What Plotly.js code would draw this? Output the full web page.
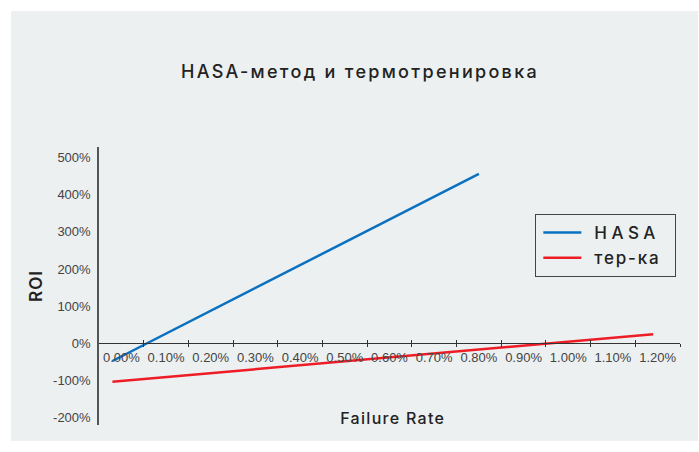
<!DOCTYPE html>
<html>
<head>
<meta charset="utf-8">
<script src="https://cdn.plot.ly/plotly-3.0.1.min.js"></script>
<style>
  html, body { margin: 0; padding: 0; background: #ffffff; }
  #chart { position: absolute; left: 11px; top: 11px; width: 687px; height: 430px; }
  #chart .gtitle { letter-spacing: 2.3px; }
  #chart .annotation-text { letter-spacing: 1.3px; }
  #chart .ytitle { letter-spacing: 1px; }
  .legendtext { letter-spacing: 3.3px; }
  #chart .legend .traces:nth-of-type(1) .legendtext { letter-spacing: 4.5px; }
  #chart .legend .traces:nth-of-type(2) .legendtext { letter-spacing: 1.8px; }
  #chart .legend .legendlines path { d: path("M7,0h38"); }
</style>
</head>
<body>
<div id="chart"></div>
<script>
// Data (failure rate in %, ROI in %)
const hasaX = [-0.02, 0.80];
const hasaY = [-47, 456];
const termX = [-0.02, 1.19];
const termY = [-103, 25];

const xTickVals = [0, 0.1, 0.2, 0.3, 0.4, 0.5, 0.6, 0.7, 0.8, 0.9, 1.0, 1.1, 1.2];
const xTickText = ['0.00%', '0.10%', '0.20%', '0.30%', '0.40%', '0.50%', '0.60%', '0.70%', '0.80%', '0.90%', '1.00%', '1.10%', '1.20%'];
const xBoundaries = [0.05, 0.15, 0.25, 0.35, 0.45, 0.55, 0.65, 0.75, 0.85, 0.95, 1.05, 1.15, 1.25];
const yTickVals = [-200, -100, 0, 100, 200, 300, 400, 500];
const yTickText = ['-200%', '-100%', '0%', '100%', '200%', '300%', '400%', '500%'];

const xRange = [-0.05, 1.25];
const yRange = [-219, 528];
const zeroPos = (0 - yRange[0]) / (yRange[1] - yRange[0]);

const tickFont = { family: '"Liberation Sans", Arial, sans-serif', size: 13, color: '#444444' };
const mainFont = 'Inter, "Open Sans", "Noto Sans", sans-serif';

const traces = [
  { x: hasaX, y: hasaY, name: 'HASA', type: 'scatter', mode: 'lines',
    line: { color: '#0a70c0', width: 2.5 }, xaxis: 'x', yaxis: 'y' },
  { x: termX, y: termY, name: 'тер-ка', type: 'scatter', mode: 'lines',
    line: { color: '#ee1c25', width: 2.5 }, xaxis: 'x2', yaxis: 'y' }
];

const layout = {
  width: 687, height: 430,
  paper_bgcolor: '#ecf0f1', plot_bgcolor: 'rgba(0,0,0,0)',
  margin: { l: 87.5, r: 18, t: 136, b: 16 },
  title: { text: 'HASA-метод и термотренировка', x: 0.508, xref: 'container', xanchor: 'center',
    y: 0.86, yref: 'container', yanchor: 'middle',
    font: { family: mainFont, size: 18, weight: 500, color: '#222222' } },
  showlegend: true,
  legend: { x: 0.751, y: 0.759, xanchor: 'left', yanchor: 'top',
    bgcolor: 'rgba(0,0,0,0)', bordercolor: '#444444', borderwidth: 1,
    tracegroupgap: 0, itemwidth: 48,
    font: { family: mainFont, size: 17, weight: 500, color: '#222222' } },
  xaxis: {
    range: xRange, anchor: 'free', position: zeroPos,
    showline: true, linecolor: '#333333', linewidth: 1,
    showgrid: false, zeroline: false,
    tickmode: 'array', tickvals: xTickVals, ticktext: xTickText,
    ticks: '', tickfont: tickFont, ticklabelstandoff: 2,
    minor: { tickmode: 'array', tickvals: xBoundaries, ticks: 'outside', ticklen: 3, tickcolor: '#333333', tickwidth: 1, showgrid: false },
    title: { text: '' }
  },
  xaxis2: {
    range: xRange, overlaying: 'x', anchor: 'free', position: zeroPos,
    showline: false, showgrid: false, zeroline: false,
    tickmode: 'array', tickvals: xBoundaries, ticks: 'inside', ticklen: 3,
    tickcolor: '#333333', tickwidth: 1, showticklabels: false
  },
  yaxis: {
    range: yRange, domain: [0, 1],
    showline: true, linecolor: '#555555', linewidth: 1.5,
    showgrid: false, zeroline: false,
    tickmode: 'array', tickvals: yTickVals, ticktext: yTickText,
    ticks: '', tickfont: tickFont, ticklabelstandoff: 4,
    title: { text: 'ROI', standoff: 6, font: { family: mainFont, size: 17, weight: 600, color: '#222222' } }
  },
  annotations: [
    { text: 'Failure Rate', xref: 'paper', yref: 'paper', x: 0.505, y: 0.025,
      xanchor: 'center', yanchor: 'middle', showarrow: false,
      font: { family: mainFont, size: 16, weight: 500, color: '#222222' } }
  ]
};

Plotly.newPlot('chart', traces, layout, { displayModeBar: false, responsive: false });
</script>
</body>
</html>
